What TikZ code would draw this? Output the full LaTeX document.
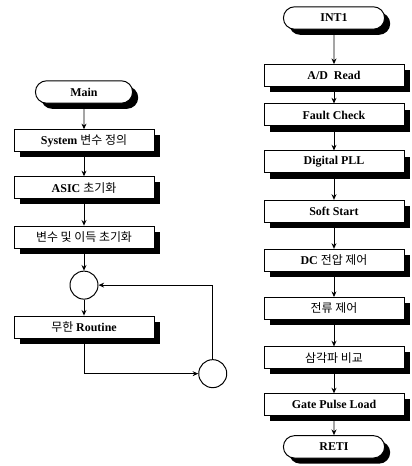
\documentclass[tikz,border=0pt]{standalone}
\usepackage{fontspec}
\setmainfont{Liberation Serif}
\newfontfamily\krfont{Noto Sans CJK KR}
\newcommand{\kr}{\mdseries\krfont}
\usetikzlibrary{arrows.meta, positioning, shapes.misc, shadows}

\begin{document}
\begin{tikzpicture}[>=Stealth, node distance=0.65cm, font=\fontsize{8.5}{10}\selectfont\bfseries]

        % Styles
        \tikzstyle{blackshadow} = [drop shadow={shadow xshift=0.14cm, shadow yshift=-0.14cm, fill=black, opacity=1}]
        \tikzstyle{box} = [draw, fill=white, line width=0.7pt, minimum width=3.5cm, minimum height=0.55cm, inner sep=1pt, blackshadow]
        \tikzstyle{term} = [box, rounded rectangle, minimum width=2.5cm, minimum height=0.56cm]
        \tikzstyle{conn} = [draw, line width=0.7pt, circle, minimum size=0.7cm, inner sep=0pt]
        \tikzstyle{flow} = [-{Stealth[length=4pt, width=3.5pt]}, line width=0.7pt]

        \useasboundingbox (0,0) rectangle (10.3,-11.65);

        % Main
        \node[term] (main) at (2.1,-2.3) {Main};
        \node[box, below=0.64cm of main] (sys) {System {\kr 변수 정의}};
        \node[box, below=0.6cm of sys] (asic) {ASIC {\kr 초기화}};
        \node[box, below=0.66cm of asic] (init) {\kr 변수 및 이득 초기화};
        \node[conn, below=0.55cm of init] (c1) {};
        \node[box, below=0.4cm of c1] (loop) {{\kr 무한} Routine};
        \node[conn, below right=0.62cm and 1.2cm of loop] (c2) {};

        % Arrows for Main
        \draw[flow] (main) -- (sys);
        \draw[flow] (sys) -- (asic);
        \draw[flow] (asic) -- (init);
        \draw[flow] (init) -- (c1);
        \draw[flow] (c1) -- (loop);
        \draw[flow] (loop.south) |- (c2.west);
        \draw[flow] (c2.north) |- (c1.east);

        % INT1
        \node[term, minimum width=2.6cm] (int) at (8.35,-0.45) {INT1};
        \node[box, below=0.86cm of int] (adc) {A/D\enspace Read};
        \node[box, below=0.41cm of adc] (fault) {Fault Check};
        \node[box, below=0.6cm of fault] (pll) {Digital PLL};
        \node[box, below=0.66cm of pll] (soft) {Soft Start};
        \node[box, below=0.65cm of soft] (dc) {DC {\kr 전압 제어}};
        \node[box, below=0.63cm of dc] (cur) {\kr 전류 제어};
        \node[box, below=0.66cm of cur] (tri) {\kr 삼각파 비교};
        \node[box, below=0.6cm of tri] (gate) {Gate Pulse Load};
        \node[term, minimum width=2.6cm, below=0.47cm of gate] (reti) {RETI};

        % Arrows for INT1
        \draw[flow] (int) -- (adc);
        \draw[flow] (adc) -- (fault);
        \draw[flow] (fault) -- (pll);
        \draw[flow] (pll) -- (soft);
        \draw[flow] (soft) -- (dc);
        \draw[flow] (dc) -- (cur);
        \draw[flow] (cur) -- (tri);
        \draw[flow] (tri) -- (gate);
        \draw[flow] (gate) -- (reti);

\end{tikzpicture}
\end{document}
